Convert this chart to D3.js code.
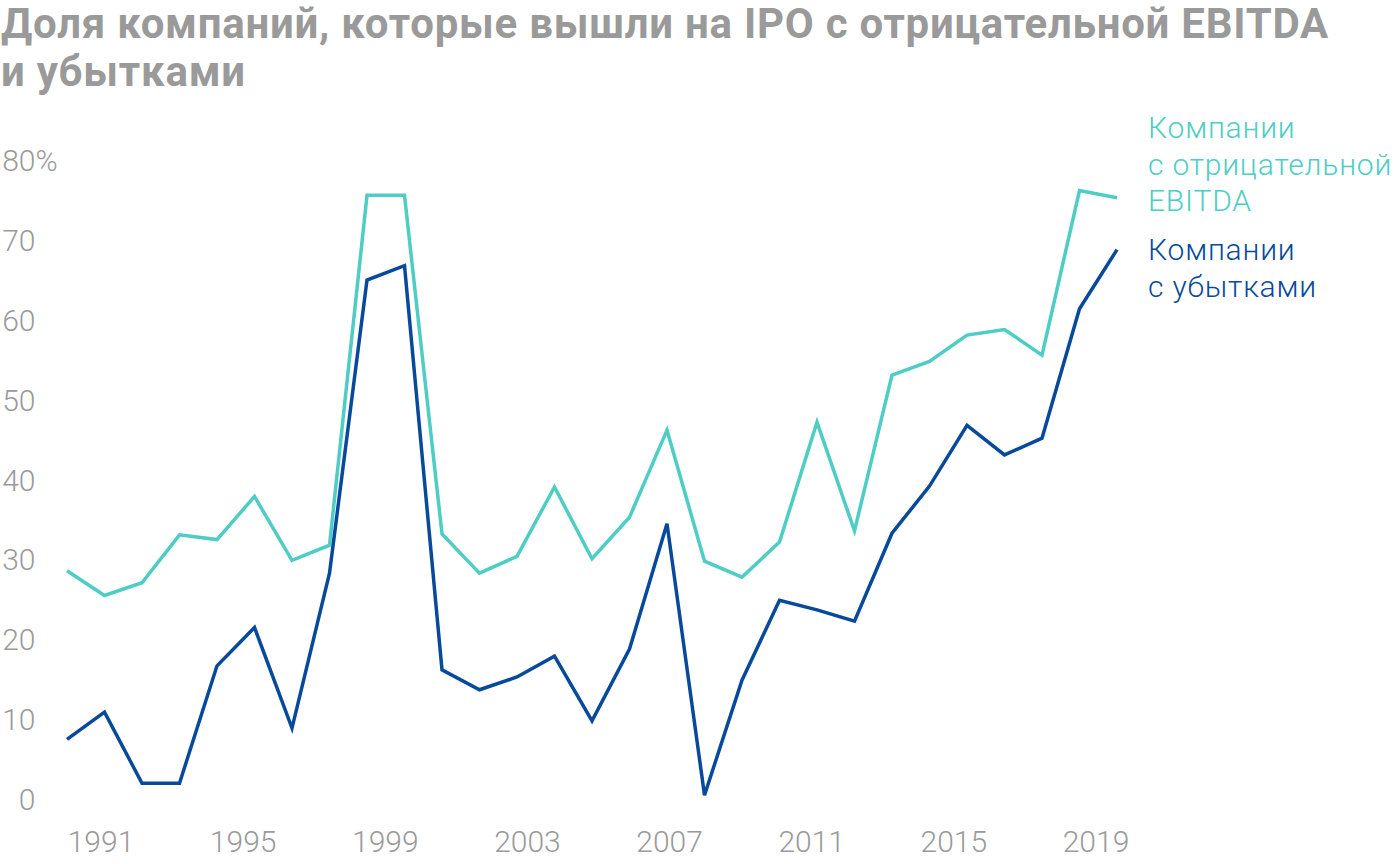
<!DOCTYPE html>
<html>
<head>
<meta charset="utf-8">
<script src="https://cdn.jsdelivr.net/npm/d3@7"></script>
<style>
  body { margin: 0; background: #fff; }
  svg text { font-family: Roboto, "Noto Sans", sans-serif; }
</style>
</head>
<body>
<svg id="chart" width="1400" height="864"></svg>
<script>
// years on the x axis
var years = [1991, 1992, 1993, 1994, 1995, 1996, 1997, 1998, 1999, 2000,
             2001, 2002, 2003, 2004, 2005, 2006, 2007, 2008, 2009, 2010,
             2011, 2012, 2013, 2014, 2015, 2016, 2017, 2018, 2019];

// share of IPO companies with negative EBITDA, %
var negEbitda = [28.7, 25.6, 27.2, 33.2, 32.6, 38.0, 30.0, 31.9, 75.7, 75.7,
                 33.3, 28.4, 30.5, 39.2, 30.2, 35.4, 46.3, 29.9, 27.9, 32.3,
                 47.3, 33.7, 53.2, 54.9, 58.2, 58.9, 55.7, 76.3, 75.4];

// share of IPO companies with losses, %
var withLosses = [7.6, 11.0, 2.1, 2.1, 16.8, 21.6, 9.0, 28.4, 65.1, 66.9,
                  16.3, 13.8, 15.4, 18.0, 9.9, 18.9, 34.6, 0.6, 15.0, 25.0,
                  23.8, 22.4, 33.4, 39.3, 46.9, 43.2, 45.3, 61.5, 68.9];

var xTicks = [1991, 1995, 1999, 2003, 2007, 2011, 2015, 2019];
var yTicks = [0, 10, 20, 30, 40, 50, 60, 70, 80];

var titleLines = ["Доля компаний, которые вышли на IPO с отрицательной EBITDA", "и убытками"];
var legendEbitda = ["Компании", "с отрицательной", "EBITDA"];
var legendLosses = ["Компании", "с убытками"];

var teal = "#4ecdc4",
    blue = "#07499a",
    grey = "#9a9a9a";

var svg = d3.select("#chart");

// scales
var xScale = d3.scaleLinear()
    .domain([1991, 2019])
    .range([67, 1117]);

// tick labels sit on their own, slightly tighter spacing
var tickScale = d3.scaleLinear()
    .domain([1991, 2019])
    .range([100.5, 1095.5]);

var yScale = d3.scaleLinear()
    .domain([0, 80])
    .range([800, 161]);

// title
svg.append("g").selectAll("text")
    .data(titleLines)
  .enter().append("text")
    .attr("x", 1)
    .attr("y", function(d, i) { return 38 + i * 48; })
    .attr("fill", grey)
    .style("font-size", "42px")
    .style("font-weight", 700)
    .style("letter-spacing", "0.75px")
    .text(function(d) { return d; });

// y axis
var yAxis = d3.axisLeft(yScale)
    .tickValues(yTicks)
    .tickSize(0)
    .tickPadding(0);

var yG = svg.append("g")
    .attr("transform", "translate(35.5,0)")
    .call(yAxis);
yG.select(".domain").remove();
yG.selectAll("text")
    .attr("fill", grey)
    .style("font-size", "30px")
    .style("font-weight", 300)
    .style("font-family", "Roboto, sans-serif");

// percent sign after the top tick
yG.append("text")
    .attr("x", 0)
    .attr("y", yScale(80))
    .attr("dy", "0.32em")
    .attr("fill", grey)
    .attr("text-anchor", "start")
    .style("font-size", "30px")
    .style("font-weight", 300)
    .style("font-family", "Roboto, sans-serif")
    .text("%");

// x axis
var xAxis = d3.axisBottom(tickScale)
    .tickValues(xTicks)
    .tickFormat(d3.format("d"))
    .tickSize(0)
    .tickPadding(0);

var xG = svg.append("g")
    .attr("transform", "translate(0,830.7)")
    .call(xAxis);
xG.select(".domain").remove();
xG.selectAll("text")
    .attr("dy", "0.71em")
    .attr("fill", grey)
    .style("font-size", "30px")
    .style("font-weight", 300)
    .style("font-family", "Roboto, sans-serif");

// lines
var line = d3.line()
    .x(function(d) { return xScale(d.year); })
    .y(function(d) { return yScale(d.value); });

function series(values) {
    return years.map(function(y, i) { return {year: y, value: values[i]}; });
}

svg.append("path")
    .datum(series(negEbitda))
    .attr("fill", "none")
    .attr("stroke", teal)
    .attr("stroke-width", 3.5)
    .attr("d", line);

svg.append("path")
    .datum(series(withLosses))
    .attr("fill", "none")
    .attr("stroke", blue)
    .attr("stroke-width", 3.5)
    .attr("d", line);

// labels on the right
function legend(lines, color, y0) {
    svg.append("g").selectAll("text")
        .data(lines)
      .enter().append("text")
        .attr("x", 1148)
        .attr("y", function(d, i) { return y0 + i * 36.5; })
        .attr("fill", color)
        .style("font-size", "30px")
        .style("font-weight", 300)
        .style("letter-spacing", "0.8px")
        .text(function(d) { return d; });
}
legend(legendEbitda, teal, 138);
legend(legendLosses, blue, 260);
</script>
</body>
</html>
